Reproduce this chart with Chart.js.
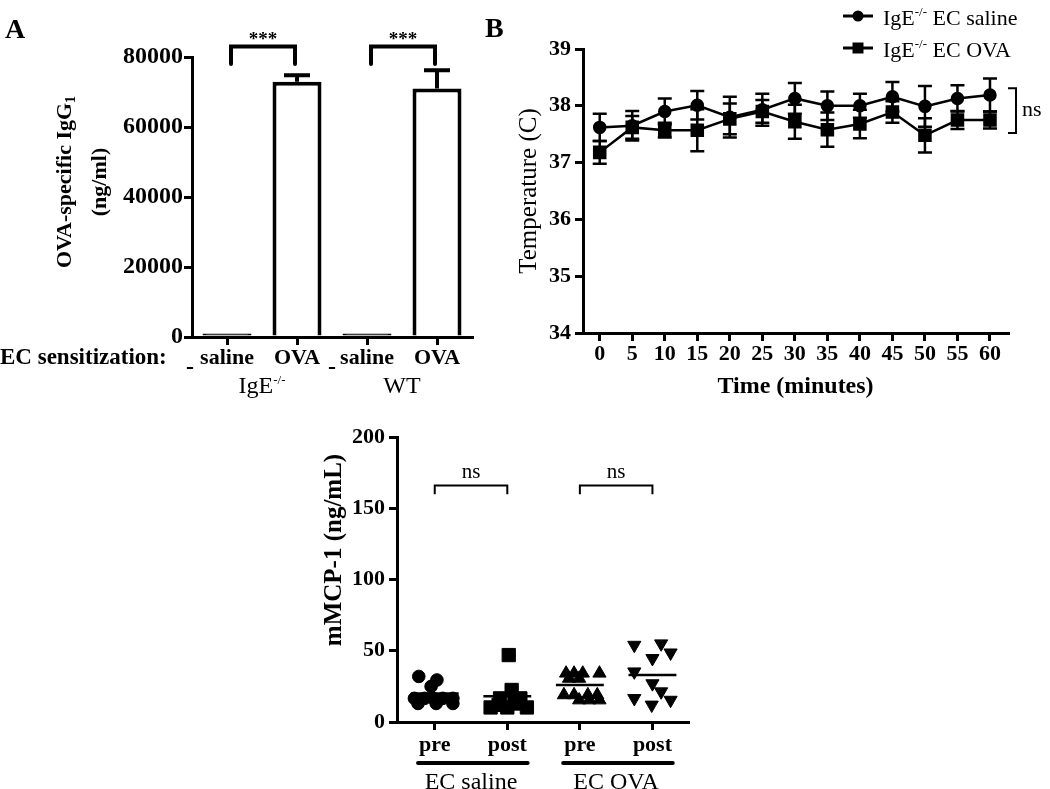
<!DOCTYPE html>
<html>
<head>
<meta charset="utf-8">
<title>IgE-/- EC sensitization</title>
<script src="https://cdn.jsdelivr.net/npm/chart.js@4.4.1/dist/chart.umd.min.js"></script>
<style>
  body { margin: 0; background: #fff; width: 1050px; height: 789px; position: relative; overflow: hidden; }
  canvas { position: absolute; }
  #chartA { left: 0; top: 0; width: 480px; height: 400px; }
  #chartB { left: 470px; top: 0; width: 580px; height: 400px; }
  #chartC { left: 300px; top: 420px; width: 420px; height: 369px; }
</style>
</head>
<body>
<canvas id="chartA" width="480" height="400"></canvas>
<canvas id="chartB" width="580" height="400"></canvas>
<canvas id="chartC" width="420" height="369"></canvas>
<script>
// Panel A: OVA-specific IgG1
const groupsA = ['saline', 'OVA', 'saline', 'OVA'];
const strainsA = ['IgE', 'WT'];
const igg1Mean = [1000, 72900, 1000, 71000];
const igg1Sem = [0, 1900, 0, 5200];
const yTicksA = [0, 20000, 40000, 60000, 80000];

// Panel B: body temperature after challenge
const timeMin = [0, 5, 10, 15, 20, 25, 30, 35, 40, 45, 50, 55, 60];
const tempSaline = [37.62, 37.65, 37.9, 38.01, 37.8, 37.93, 38.13, 38.0, 38.0, 38.16, 37.99, 38.13, 38.19];
const semSaline = [0.24, 0.26, 0.23, 0.25, 0.36, 0.28, 0.27, 0.25, 0.21, 0.26, 0.36, 0.23, 0.29];
const tempOva = [37.18, 37.62, 37.57, 37.57, 37.77, 37.9, 37.72, 37.58, 37.68, 37.89, 37.48, 37.75, 37.75];
const semOva = [0.2, 0.2, 0.13, 0.37, 0.27, 0.2, 0.3, 0.3, 0.25, 0.19, 0.3, 0.16, 0.15];
const seriesB = ['EC saline', 'EC OVA'];
const yTicksB = [34, 35, 36, 37, 38, 39];

// Panel C: serum mMCP-1 (value, horizontal spread within column)
const xLabelsC = ['pre', 'post', 'pre', 'post'];
const groupsC = ['EC saline', 'EC OVA'];
const preSaline = [32, 29.5, 25, 16.6, 16.6, 16.6, 16.6, 16.6, 13, 13, 13];
const preSalineSpread = [-0.22, 0.03, -0.05, -0.28, -0.14, -0.02, 0.11, 0.25, -0.23, 0.02, 0.25];
const postSaline = [47, 22.5, 16.6, 16.6, 10.2, 10.2, 10.2, 13, 12];
const postSalineSpread = [0.02, 0.06, -0.1, 0.18, -0.23, 0.0, 0.27, 0.1, -0.12];
const preOva = [34.2, 34.2, 34.2, 34.2, 30.6, 30.6, 19, 19, 19, 19, 15.4, 15.4, 15.4];
const preOvaSpread = [-0.19, -0.08, 0.04, 0.27, -0.15, -0.01, -0.22, -0.08, 0.11, 0.24, -0.01, 0.13, 0.27];
const postOva = [54, 55, 44.7, 48.6, 35.3, 27, 21.3, 16.6, 15.4, 12];
const postOvaSpread = [-0.25, 0.12, 0.0, 0.25, -0.25, 0.0, 0.12, -0.25, 0.25, -0.01];
const mcptMeans = [20, 18, 26, 33];
const yTicksC = [0, 50, 100, 150, 200];

const SERIF = "'Liberation Serif', 'Times New Roman', serif";
Chart.defaults.font.family = SERIF;
Chart.defaults.color = '#000';
Chart.defaults.animation = false;
Chart.defaults.plugins.legend.display = false;
Chart.defaults.plugins.tooltip.enabled = false;

function axisLines() {
  return {
    grid: { display: true, drawOnChartArea: false, drawTicks: true, tickLength: 8, lineWidth: 3, color: '#000', offset: false },
    border: { display: true, width: 3, color: '#000' }
  };
}

// draws text pieces one after another (for super/subscripts)
function drawRich(ctx, x, y, parts, align) {
  const widths = parts.map(p => { ctx.font = p.font; return ctx.measureText(p.text).width; });
  const total = widths.reduce((a, b) => a + b, 0);
  let cx = align === 'center' ? x - total / 2 : x;
  ctx.textAlign = 'left';
  parts.forEach((p, i) => {
    ctx.font = p.font;
    ctx.fillText(p.text, cx, y + (p.dy || 0));
    cx += widths[i];
  });
}

// ---------- Panel A ----------
const panelAExtras = {
  id: 'panelAExtras',
  afterDatasetsDraw(chart) {
    const { ctx, scales: { x, y } } = chart;
    ctx.save();
    ctx.strokeStyle = '#000';
    ctx.lineWidth = 4;
    igg1Mean.forEach((m, i) => {
      if (!igg1Sem[i]) return;
      const px = x.getPixelForValue(i);
      const top = y.getPixelForValue(m + igg1Sem[i]);
      ctx.beginPath();
      ctx.moveTo(px, y.getPixelForValue(m));
      ctx.lineTo(px, top);
      ctx.moveTo(px - 13, top);
      ctx.lineTo(px + 13, top);
      ctx.stroke();
    });
    // *** brackets
    ctx.lineCap = 'round';
    [[0, 1], [2, 3]].forEach(([a, b]) => {
      const x1 = x.getPixelForValue(a) + 4;
      const x2 = x.getPixelForValue(b) - 2;
      const yb = y.getPixelForValue(83000);
      const yt = y.getPixelForValue(78000);
      ctx.beginPath();
      ctx.moveTo(x1, yt); ctx.lineTo(x1, yb); ctx.lineTo(x2, yb); ctx.lineTo(x2, yt);
      ctx.stroke();
      ctx.fillStyle = '#000';
      ctx.font = 'bold 19px ' + SERIF;
      ctx.textAlign = 'center';
      ctx.textBaseline = 'alphabetic';
      ctx.fillText('***', (x1 + x2) / 2, yb - 2);
    });
    ctx.restore();
  },
  afterDraw(chart) {
    const { ctx, scales: { x } } = chart;
    ctx.save();
    ctx.fillStyle = '#000';
    ctx.textBaseline = 'alphabetic';
    ctx.font = 'bold 28px ' + SERIF;
    ctx.textAlign = 'left';
    ctx.fillText('A', 5, 38);

    // y title with subscript
    ctx.save();
    ctx.translate(65, 182);
    ctx.rotate(-Math.PI / 2);
    ctx.textBaseline = 'middle';
    drawRich(ctx, 0, 0, [
      { text: 'OVA-specific IgG', font: 'bold 22px ' + SERIF },
      { text: '1', font: 'bold 14px ' + SERIF, dy: 6 }
    ], 'center');
    ctx.font = 'bold 22px ' + SERIF;
    ctx.textAlign = 'center';
    ctx.fillText('(ng/ml)', 0, 35);
    ctx.restore();

    ctx.textBaseline = 'middle';
    ctx.font = 'bold 23px ' + SERIF;
    ctx.textAlign = 'left';
    ctx.fillText('EC sensitization:', 0, 358);
    ctx.font = 'bold 24px ' + SERIF;
    ctx.textAlign = 'center';
    ctx.fillText('-', 190, 368);
    ctx.fillText('-', 332, 368);

    strainsA.forEach((s, k) => {
      const cx = (x.getPixelForValue(2 * k) + x.getPixelForValue(2 * k + 1)) / 2;
      const parts = [{ text: s, font: '24px ' + SERIF }];
      if (s === 'IgE') parts.push({ text: '-/-', font: '13px ' + SERIF, dy: -6 });
      drawRich(ctx, cx, 387, parts, 'center');
    });
    ctx.restore();
  }
};

new Chart(document.getElementById('chartA'), {
  type: 'bar',
  data: {
    labels: groupsA,
    datasets: [{
      data: igg1Mean,
      // near-zero bars show only as a thick dark line on the axis
      backgroundColor: c => (igg1Mean[c.dataIndex] < 5000 ? '#000' : '#fff'),
      borderColor: '#000',
      borderWidth: 4,
      barPercentage: 0.7,
      categoryPercentage: 1
    }]
  },
  options: {
    responsive: false,
    layout: { padding: { left: 0, top: 57, right: 8, bottom: 0 } },
    scales: {
      x: {
        ...axisLines(),
        ticks: { font: { size: 22, weight: 'bold' }, padding: 0, maxRotation: 0, autoSkip: false },
        afterFit: s => { s.height = 63; }
      },
      y: {
        ...axisLines(),
        min: 0,
        max: 80000,
        afterBuildTicks: s => { s.ticks = yTicksA.map(v => ({ value: v })); },
        ticks: { font: { size: 24, weight: 'bold' }, padding: 1, callback: v => String(v) },
        afterFit: s => { s.width = 192; }
      }
    }
  },
  plugins: [panelAExtras]
});

// ---------- Panel B ----------
const panelBExtras = {
  id: 'panelBExtras',
  beforeDatasetsDraw(chart) {
    const { ctx, scales: { x, y } } = chart;
    ctx.save();
    ctx.strokeStyle = '#000';
    ctx.lineWidth = 2.5;
    [[tempSaline, semSaline], [tempOva, semOva]].forEach(([m, e]) => {
      timeMin.forEach((t, i) => {
        const px = x.getPixelForValue(t);
        const hi = y.getPixelForValue(m[i] + e[i]);
        const lo = y.getPixelForValue(m[i] - e[i]);
        ctx.beginPath();
        ctx.moveTo(px, lo); ctx.lineTo(px, hi);
        ctx.moveTo(px - 7, hi); ctx.lineTo(px + 7, hi);
        ctx.moveTo(px - 7, lo); ctx.lineTo(px + 7, lo);
        ctx.stroke();
      });
    });
    ctx.restore();
  },
  afterDraw(chart) {
    const { ctx, chartArea, scales: { y } } = chart;
    ctx.save();
    ctx.fillStyle = '#000';
    ctx.strokeStyle = '#000';
    ctx.font = 'bold 28px ' + SERIF;
    ctx.textAlign = 'left';
    ctx.textBaseline = 'alphabetic';
    ctx.fillText('B', 15, 37);

    // legend
    const rows = [16, 48];
    seriesB.forEach((name, k) => {
      const ly = rows[k];
      ctx.lineWidth = 3;
      ctx.beginPath();
      ctx.moveTo(373, ly); ctx.lineTo(403, ly);
      ctx.stroke();
      ctx.beginPath();
      if (k === 0) ctx.arc(388, ly, 5.5, 0, Math.PI * 2);
      else ctx.rect(382.5, ly - 5.5, 11, 11);
      ctx.fill();
      drawRich(ctx, 413, ly + 9, [
        { text: 'IgE', font: '22px ' + SERIF },
        { text: '-/-', font: '13px ' + SERIF, dy: -9 },
        { text: ' ' + name, font: '22px ' + SERIF }
      ], 'left');
    });

    // ns bracket
    const bx = chartArea.right + 8;
    const yt = y.getPixelForValue(38.31);
    const yb = y.getPixelForValue(37.52);
    ctx.lineWidth = 2;
    ctx.beginPath();
    ctx.moveTo(bx - 8, yt); ctx.lineTo(bx, yt); ctx.lineTo(bx, yb); ctx.lineTo(bx - 8, yb);
    ctx.stroke();
    ctx.font = '22px ' + SERIF;
    ctx.textBaseline = 'middle';
    ctx.fillText('ns', bx + 6, (yt + yb) / 2);
    ctx.restore();
  }
};

new Chart(document.getElementById('chartB'), {
  type: 'line',
  data: {
    datasets: [
      {
        label: 'IgE-/- EC saline',
        data: timeMin.map((t, i) => ({ x: t, y: tempSaline[i] })),
        borderColor: '#000', borderWidth: 2.5,
        pointStyle: 'circle', pointRadius: 5.5,
        pointBackgroundColor: '#000', pointBorderColor: '#000'
      },
      {
        label: 'IgE-/- EC OVA',
        data: timeMin.map((t, i) => ({ x: t, y: tempOva[i] })),
        borderColor: '#000', borderWidth: 2.5,
        pointStyle: 'rect', pointRadius: 7.8,
        pointBackgroundColor: '#000', pointBorderColor: '#000'
      }
    ]
  },
  options: {
    responsive: false,
    layout: { padding: { left: 44, top: 49, right: 42, bottom: 0 } },
    scales: {
      x: {
        ...axisLines(),
        type: 'linear',
        min: -2.57,
        max: 62.77,
        afterBuildTicks: s => { s.ticks = timeMin.map(v => ({ value: v })); },
        ticks: { font: { size: 22, weight: 'bold' }, padding: 0, autoSkip: false, maxRotation: 0 },
        title: { display: true, text: 'Time (minutes)', font: { size: 24, weight: 'bold', lineHeight: 1.1 }, padding: 0 },
        afterFit: s => { s.height = 67; }
      },
      y: {
        ...axisLines(),
        min: 34,
        max: 39,
        afterBuildTicks: s => { s.ticks = yTicksB.map(v => ({ value: v })); },
        ticks: { font: { size: 22, weight: 'bold' }, padding: 4 },
        title: { display: true, text: 'Temperature (C)', font: { size: 25 }, padding: 0 },
        afterFit: s => { s.width = 69; }
      }
    }
  },
  plugins: [panelBExtras]
});

// ---------- Panel C ----------
const MEAN_HALF = 0.33;
const panelCExtras = {
  id: 'panelCExtras',
  afterDraw(chart) {
    const { ctx, chartArea, scales: { x, y } } = chart;
    ctx.save();
    ctx.strokeStyle = '#000';
    ctx.fillStyle = '#000';

    // y title
    ctx.save();
    ctx.translate(35, 130);
    ctx.rotate(-Math.PI / 2);
    ctx.font = 'bold 25px ' + SERIF;
    ctx.textAlign = 'center';
    ctx.textBaseline = 'middle';
    ctx.fillText('mMCP-1 (ng/mL)', 0, 0);
    ctx.restore();

    ctx.lineWidth = 2;
    [[0, 1], [2, 3]].forEach(([a, b]) => {
      const x1 = x.getPixelForValue(a);
      const x2 = x.getPixelForValue(b);
      const yb = y.getPixelForValue(166);
      const yt = y.getPixelForValue(160);
      ctx.beginPath();
      ctx.moveTo(x1, yt); ctx.lineTo(x1, yb); ctx.lineTo(x2, yb); ctx.lineTo(x2, yt);
      ctx.stroke();
      ctx.font = '21px ' + SERIF;
      ctx.textAlign = 'center';
      ctx.textBaseline = 'alphabetic';
      ctx.fillText('ns', (x1 + x2) / 2, yb - 8);
    });
    const lineY = chartArea.bottom + 41;
    ctx.lineWidth = 4;
    ctx.lineCap = 'round';
    groupsC.forEach((g, k) => {
      const a = 2 * k, b = 2 * k + 1;
      ctx.beginPath();
      ctx.moveTo(x.getPixelForValue(a - 0.23), lineY);
      ctx.lineTo(x.getPixelForValue(b + 0.28), lineY);
      ctx.stroke();
      ctx.font = '24px ' + SERIF;
      ctx.textAlign = 'center';
      ctx.textBaseline = 'middle';
      ctx.fillText(g, x.getPixelForValue(a + 0.5), lineY + 20);
    });
    ctx.restore();
  }
};

function dotSet(values, spread, col, style, radius, rotation) {
  return {
    type: 'scatter',
    data: values.map((v, i) => ({ x: col + spread[i], y: v })),
    pointStyle: style,
    pointRadius: radius,
    pointRotation: rotation || 0,
    pointBackgroundColor: '#000',
    pointBorderColor: '#000',
    pointBorderWidth: 1
  };
}

function meanSet(col) {
  return {
    type: 'line',
    data: [{ x: col - MEAN_HALF, y: mcptMeans[col] }, { x: col + MEAN_HALF, y: mcptMeans[col] }],
    borderColor: '#000',
    borderWidth: 2.5,
    pointRadius: 0
  };
}

new Chart(document.getElementById('chartC'), {
  type: 'scatter',
  data: {
    datasets: [
      dotSet(preSaline, preSalineSpread, 0, 'circle', 6.3),
      dotSet(postSaline, postSalineSpread, 1, 'rect', 9.4),
      dotSet(preOva, preOvaSpread, 2, 'triangle', 7.6),
      dotSet(postOva, postOvaSpread, 3, 'triangle', 7.6, 180),
      meanSet(0), meanSet(1), meanSet(2), meanSet(3)
    ]
  },
  options: {
    responsive: false,
    layout: { padding: { left: 25, top: 17, right: 32, bottom: 0 } },
    scales: {
      x: {
        ...axisLines(),
        type: 'linear',
        min: -0.52,
        max: 3.49,
        afterBuildTicks: s => { s.ticks = xLabelsC.map((_, i) => ({ value: i })); },
        ticks: { font: { size: 22, weight: 'bold' }, padding: 2, autoSkip: false, maxRotation: 0, callback: v => xLabelsC[v] },
        afterFit: s => { s.height = 67; }
      },
      y: {
        ...axisLines(),
        min: 0,
        max: 200,
        afterBuildTicks: s => { s.ticks = yTicksC.map(v => ({ value: v })); },
        ticks: { font: { size: 22, weight: 'bold' }, padding: 4 },
        afterFit: s => { s.width = 72; }
      }
    }
  },
  plugins: [panelCExtras]
});
</script>
</body>
</html>
